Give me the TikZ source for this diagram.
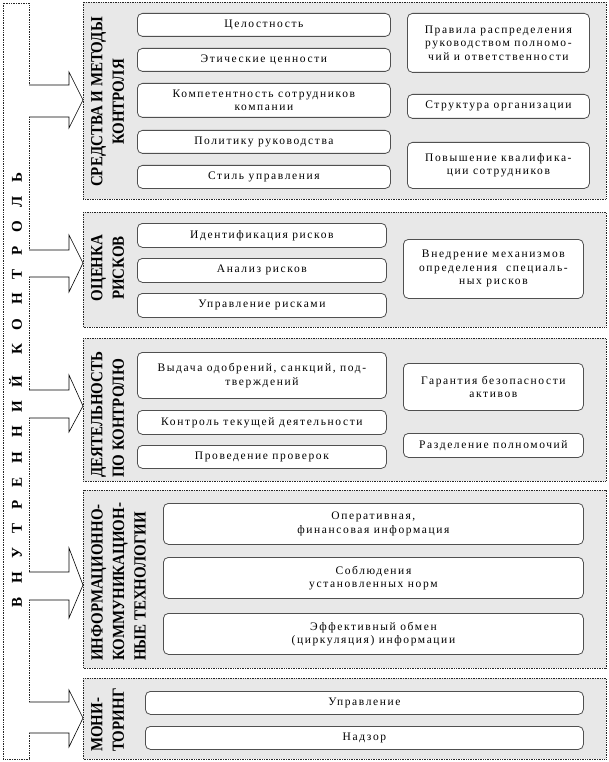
\documentclass[tikz,border=0pt]{standalone}
\usepackage{fontspec}
\setmainfont{Liberation Serif}
\newfontfamily\boxfont[LetterSpace=14]{Liberation Serif}
\newfontfamily\ttlfont[FakeStretch=0.88]{Liberation Serif}
\definecolor{secgray}{HTML}{E8E8E8}
\definecolor{edgegray}{HTML}{505050}
\tikzset{
  secbox/.style={fill=secgray, draw=black!85, densely dotted, line width=0.7pt},
  leftbox/.style={fill=white, draw=black!85, densely dotted, line width=0.7pt},
  ibox/.style={draw=edgegray, fill=white, rounded corners=5pt, line width=0.8pt,
     align=center, inner sep=1pt, anchor=north west,
     font=\boxfont\fontsize{11.5}{13.5}\selectfont},
  ttl/.style={rotate=90, inner sep=0pt, font=\ttlfont\bfseries\fontsize{17}{21.5}\selectfont},
  blockarrow/.style={fill=white, draw=black, line width=0.6pt, line join=miter}
}
\begin{document}
\begin{tikzpicture}[x=1pt, y=-1pt]
\useasboundingbox (0,0) rectangle (609,762);

% left vertical box
\draw[leftbox] (3,3) rectangle (29,759);
\node[rotate=90, inner sep=0pt, font=\bfseries\fontsize{15}{18}\selectfont] (main) at (15.5,390)
  {\makebox[435pt][s]{В Н У Т Р Е Н Н И Й\hspace{7pt} К О Н Т Р О Л Ь}};

% sections
\draw[secbox] (83,2) rectangle (606,199);
\draw[secbox] (83,212) rectangle (606,327);
\draw[secbox] (83,338) rectangle (606,481);
\draw[secbox] (83,490) rectangle (606,668);
\draw[secbox] (83,678) rectangle (606,759);

% block arrows
\draw[blockarrow] (29,85) -- (69,85) -- (69,72) -- (83,100) -- (69,128) -- (69,117) -- (29,117);
\draw[blockarrow] (29,250) -- (69,250) -- (69,235) -- (83,263) -- (69,292) -- (69,277) -- (29,277);
\draw[blockarrow] (29,390) -- (69,390) -- (69,375) -- (83,406) -- (69,432) -- (69,418) -- (29,418);
\draw[blockarrow] (29,572) -- (69,572) -- (69,548) -- (83,585) -- (69,618) -- (69,600) -- (29,600);
\draw[blockarrow] (29,702) -- (69,702) -- (69,690) -- (83,718) -- (69,747) -- (69,733) -- (29,733);

% titles
\node[ttl, align=center] (t1) at (107.5,102) {СРЕДСТВА И МЕТОДЫ\\КОНТРОЛЯ};
\node[ttl, align=center] (t2) at (107.5,268) {ОЦЕНКА\\РИСКОВ};
\begin{scope}
  \clip (83,338) rectangle (606,481);
  \node[ttl, align=left, anchor=west] (t3) at (107.5,478) {ДЕЯТЕЛЬНОСТЬ\\ПО КОНТРОЛЮ};
\end{scope}
\node[ttl, align=left, anchor=west] (t4) at (118.5,661) {ИНФОРМАЦИОННО-\\КОММУНИКАЦИОН-\\НЫЕ ТЕХНОЛОГИИ};
\node[ttl, align=left, anchor=west] (t5) at (107.5,752) {МОНИ-\\ТОРИНГ};

% section 1
\node[ibox, minimum width=253pt, minimum height=23pt] (a1) at (137,13) {Целостность};
\node[ibox, minimum width=253pt, minimum height=23pt] (a2) at (137,48) {Этические ценности};
\node[ibox, minimum width=253pt, minimum height=34pt] (a3) at (137,83) {Компетентность сотрудников\\компании};
\node[ibox, minimum width=253pt, minimum height=23pt] (a4) at (137,130) {Политику руководства};
\node[ibox, minimum width=253pt, minimum height=23pt] (a5) at (137,165) {Стиль управления};
\node[ibox, minimum width=182pt, minimum height=59pt] (b1) at (407,13) {Правила распределения\\руководством полномо-\\чий и ответственности};
\node[ibox, minimum width=182pt, minimum height=24pt] (b2) at (407,94) {Структура организации};
\node[ibox, minimum width=182pt, minimum height=46pt] (b3) at (407,142) {Повышение квалифика-\\ции сотрудников};

% section 2
\node[ibox, minimum width=249pt, minimum height=24pt] (c1) at (137,223) {Идентификация рисков};
\node[ibox, minimum width=249pt, minimum height=24pt] (c2) at (137,258) {Анализ рисков};
\node[ibox, minimum width=249pt, minimum height=24pt] (c3) at (137,293) {Управление рисками};
\node[ibox, minimum width=180pt, minimum height=59pt] (d1) at (403,239) {Внедрение механизмов\\определения\ \ специаль-\\ных рисков};

% section 3
\node[ibox, minimum width=249pt, minimum height=46pt] (e1) at (137,352) {Выдача одобрений, санкций, под-\\тверждений};
\node[ibox, minimum width=249pt, minimum height=24pt] (e2) at (137,410) {Контроль текущей деятельности};
\node[ibox, minimum width=249pt, minimum height=23pt] (e3) at (137,445) {Проведение проверок};
\node[ibox, minimum width=180pt, minimum height=47pt] (f1) at (403,363) {Гарантия безопасности\\активов};
\node[ibox, minimum width=180pt, minimum height=24pt] (f2) at (403,433) {Разделение полномочий};

% section 4
\node[ibox, minimum width=420pt, minimum height=41pt] (g1) at (163,503) {Оперативная,\\финансовая информация};
\node[ibox, minimum width=420pt, minimum height=41pt] (g2) at (163,557) {Соблюдения\\установленных норм};
\node[ibox, minimum width=420pt, minimum height=41pt] (g3) at (163,613) {Эффективный обмен\\(циркуляция) информации};

% section 5
\node[ibox, minimum width=438pt, minimum height=23pt] (h1) at (145,691) {Управление};
\node[ibox, minimum width=438pt, minimum height=23pt] (h2) at (145,726) {Надзор};
\end{tikzpicture}
\end{document}
